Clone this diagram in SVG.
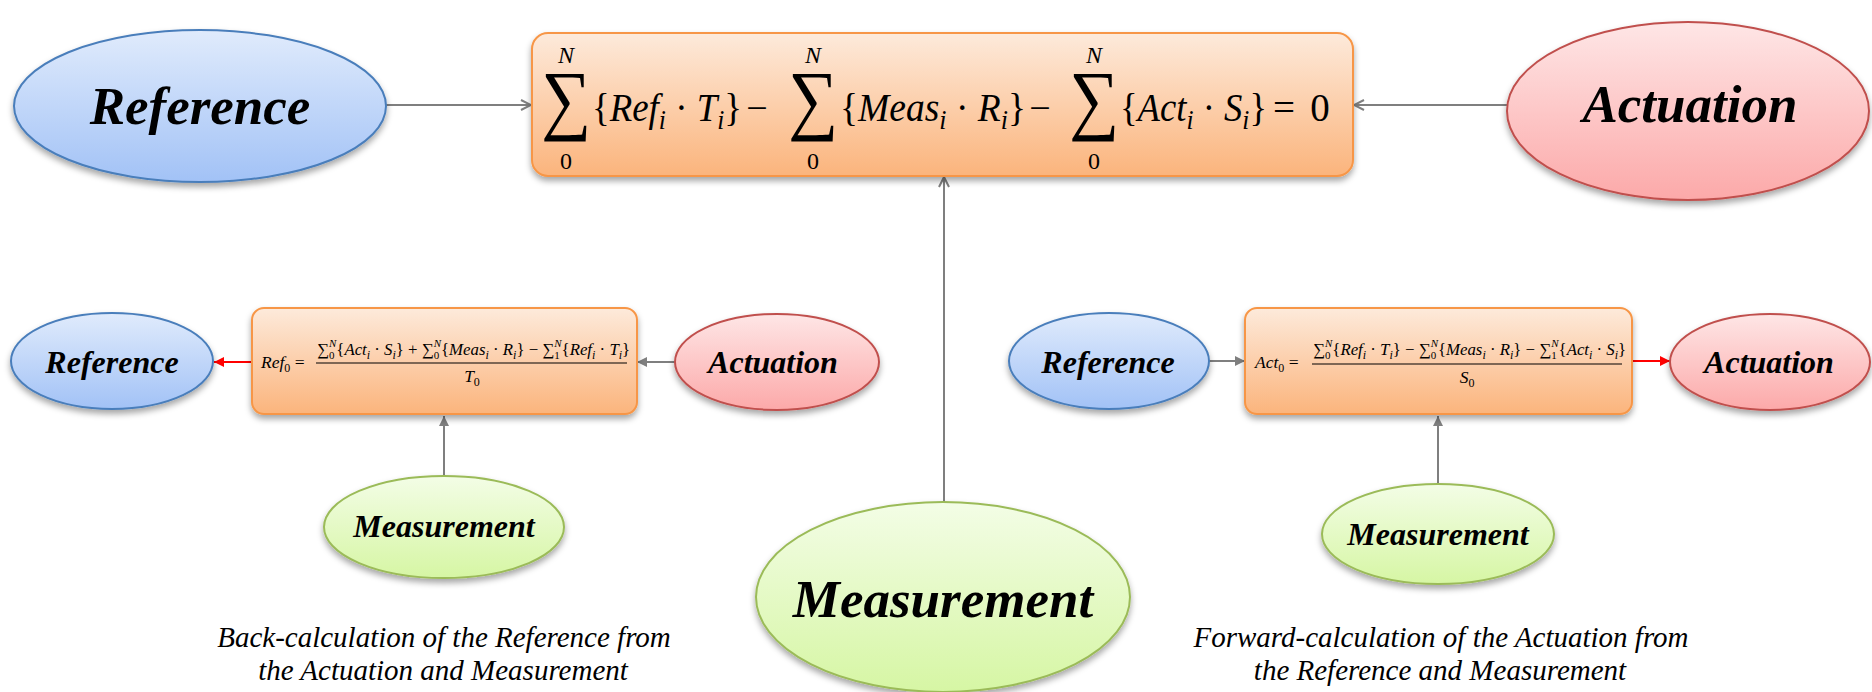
<svg xmlns="http://www.w3.org/2000/svg" width="1872" height="692" viewBox="0 0 1872 692">
<defs>
<linearGradient id="gBlue" x1="0" y1="0" x2="0" y2="1"><stop offset="0" stop-color="#e0ebfc"/><stop offset="1" stop-color="#a2c2f6"/></linearGradient>
<linearGradient id="gRed" x1="0" y1="0" x2="0" y2="1"><stop offset="0" stop-color="#fee6e6"/><stop offset="1" stop-color="#fca9a9"/></linearGradient>
<linearGradient id="gGreen" x1="0" y1="0" x2="0" y2="1"><stop offset="0" stop-color="#f3fde6"/><stop offset="1" stop-color="#d6f6a4"/></linearGradient>
<linearGradient id="gOrange" x1="0" y1="0" x2="0" y2="1"><stop offset="0" stop-color="#fdeadb"/><stop offset="1" stop-color="#fbb47c"/></linearGradient>
<filter id="sh" x="-10%" y="-10%" width="120%" height="130%"><feDropShadow dx="0" dy="4" stdDeviation="3" flood-color="#000" flood-opacity="0.35"/></filter>
<marker id="open" viewBox="0 0 12 12" refX="11" refY="6" markerWidth="12" markerHeight="12" markerUnits="userSpaceOnUse" orient="auto"><path d="M1,1 L11,6 L1,11" fill="none" stroke="#7f7f7f" stroke-width="2"/></marker>
<marker id="tri" viewBox="0 0 10 10" refX="10" refY="5" markerWidth="11" markerHeight="10" markerUnits="userSpaceOnUse" orient="auto"><path d="M0,0 L10,5 L0,10 Z" fill="#7f7f7f"/></marker>
<marker id="triR" viewBox="0 0 10 10" refX="10" refY="5" markerWidth="11" markerHeight="10" markerUnits="userSpaceOnUse" orient="auto"><path d="M0,0 L10,5 L0,10 Z" fill="#ff0000"/></marker>
</defs>
<style>
.ref{fill:url(#gBlue);stroke:#4a7ebb;stroke-width:2}
.act{fill:url(#gRed);stroke:#c0504d;stroke-width:2}
.mea{fill:url(#gGreen);stroke:#9bbb59;stroke-width:2}
.box{fill:url(#gOrange);stroke:#f79646;stroke-width:2}
.lbl{font-family:"Liberation Serif",serif;font-weight:bold;font-style:italic;fill:#000;text-anchor:middle}
.big{font-size:53px}
.sml{font-size:32px}
.cap{font-family:"Liberation Serif",serif;font-style:italic;font-size:29px;fill:#000;text-anchor:middle}
.m{font-family:"Liberation Serif",serif;font-style:italic;fill:#000}
.u{font-style:normal}
.con{stroke:#7f7f7f;stroke-width:2;fill:none}
.conR{stroke:#ff0000;stroke-width:2;fill:none}
</style>

<g id="connectors">
<line class="con" x1="386" y1="105" x2="531" y2="105" marker-end="url(#open)"/>
<line class="con" x1="1508" y1="105" x2="1354" y2="105" marker-end="url(#open)"/>
<line class="con" x1="944" y1="502" x2="944" y2="177" marker-end="url(#open)"/>
<line class="conR" x1="252" y1="362" x2="214" y2="362" marker-end="url(#triR)"/>
<line class="con" x1="676" y1="362" x2="637" y2="362" marker-end="url(#tri)"/>
<line class="con" x1="444" y1="476" x2="444" y2="416" marker-end="url(#tri)"/>
<line class="con" x1="1208" y1="361" x2="1245" y2="361" marker-end="url(#tri)"/>
<line class="conR" x1="1632" y1="361" x2="1670" y2="361" marker-end="url(#triR)"/>
<line class="con" x1="1438" y1="484" x2="1438" y2="416" marker-end="url(#tri)"/>
</g>

<g id="main-equation">
<rect class="box" x="532" y="33" width="821" height="143" rx="16" filter="url(#sh)"/>
<g class="m">
<text x="566" y="63" font-size="24" text-anchor="middle">N</text>
<text x="566" y="169" font-size="24" text-anchor="middle" class="u">0</text>
<text transform="translate(541,125) scale(0.9,1)" font-size="78" class="u">∑</text>
<text x="592" y="121" font-size="39" textLength="150" lengthAdjust="spacingAndGlyphs"><tspan class="u">{</tspan>Ref<tspan font-size="27" dy="8">i</tspan><tspan class="u" dy="-8"> · </tspan>T<tspan font-size="27" dy="8">i</tspan><tspan class="u" dy="-8">}</tspan></text>
<text x="757" y="121" font-size="38" text-anchor="middle" class="u">−</text>
<text x="813" y="63" font-size="24" text-anchor="middle">N</text>
<text x="813" y="169" font-size="24" text-anchor="middle" class="u">0</text>
<text transform="translate(788,125) scale(0.9,1)" font-size="78" class="u">∑</text>
<text x="840" y="121" font-size="39" textLength="186" lengthAdjust="spacingAndGlyphs"><tspan class="u">{</tspan>Meas<tspan font-size="27" dy="8">i</tspan><tspan class="u" dy="-8"> · </tspan>R<tspan font-size="27" dy="8">i</tspan><tspan class="u" dy="-8">}</tspan></text>
<text x="1040" y="121" font-size="38" text-anchor="middle" class="u">−</text>
<text x="1094" y="63" font-size="24" text-anchor="middle">N</text>
<text x="1094" y="169" font-size="24" text-anchor="middle" class="u">0</text>
<text transform="translate(1069,125) scale(0.9,1)" font-size="78" class="u">∑</text>
<text x="1120" y="121" font-size="39" textLength="147" lengthAdjust="spacingAndGlyphs"><tspan class="u">{</tspan>Act<tspan font-size="27" dy="8">i</tspan><tspan class="u" dy="-8"> · </tspan>S<tspan font-size="27" dy="8">i</tspan><tspan class="u" dy="-8">}</tspan></text>
<text x="1284" y="121" font-size="39" text-anchor="middle" class="u">=</text>
<text x="1320" y="121" font-size="39" text-anchor="middle" class="u">0</text>
</g>
</g>

<g id="reference-big">
<ellipse class="ref" cx="200" cy="106" rx="186" ry="76" filter="url(#sh)"/>
<text class="lbl big" x="200" y="124">Reference</text>
</g>
<g id="actuation-big">
<ellipse class="act" cx="1688" cy="111" rx="181" ry="89" filter="url(#sh)"/>
<text class="lbl big" x="1690" y="122">Actuation</text>
</g>
<g id="measurement-big">
<ellipse class="mea" cx="943" cy="597" rx="187" ry="95" filter="url(#sh)"/>
<text class="lbl big" x="943" y="617">Measurement</text>
</g>

<g id="back-calc-box">
<rect class="box" x="252" y="308" width="385" height="106" rx="12" filter="url(#sh)"/>
<g class="m" font-size="16.8">
<text x="261" y="368" font-size="17.5">Ref<tspan font-size="12" dy="4" class="u">0</tspan><tspan class="u" dy="-4"> =</tspan></text>
<text x="317" y="355"><tspan class="u">∑</tspan><tspan class="u" font-size="11" dy="4">0</tspan><tspan font-size="11" dx="-5.5" dy="-12">N</tspan><tspan class="u" dy="8">{</tspan>Act<tspan font-size="12" dy="4">i</tspan><tspan class="u" dy="-4"> · </tspan>S<tspan font-size="12" dy="4">i</tspan><tspan class="u" dy="-4">} + ∑</tspan><tspan class="u" font-size="11" dy="4">0</tspan><tspan font-size="11" dx="-5.5" dy="-12">N</tspan><tspan class="u" dy="8">{</tspan>Meas<tspan font-size="12" dy="4">i</tspan><tspan class="u" dy="-4"> · </tspan>R<tspan font-size="12" dy="4">i</tspan><tspan class="u" dy="-4">} − ∑</tspan><tspan class="u" font-size="11" dy="4">1</tspan><tspan font-size="11" dx="-5.5" dy="-12">N</tspan><tspan class="u" dy="8">{</tspan>Ref<tspan font-size="12" dy="4">i</tspan><tspan class="u" dy="-4"> · </tspan>T<tspan font-size="12" dy="4">i</tspan><tspan class="u" dy="-4">}</tspan></text>
<text x="472" y="382" text-anchor="middle" font-size="17.5">T<tspan font-size="12" dy="4" class="u">0</tspan></text>
</g>
<line x1="316" y1="363" x2="627" y2="363" stroke="#000" stroke-width="1.2"/>
</g>

<g id="forward-calc-box">
<rect class="box" x="1245" y="308" width="387" height="106" rx="12" filter="url(#sh)"/>
<g class="m" font-size="16.8">
<text x="1255" y="368" font-size="17.5">Act<tspan font-size="12" dy="4" class="u">0</tspan><tspan class="u" dy="-4"> =</tspan></text>
<text x="1313" y="355"><tspan class="u">∑</tspan><tspan class="u" font-size="11" dy="4">0</tspan><tspan font-size="11" dx="-5.5" dy="-12">N</tspan><tspan class="u" dy="8">{</tspan>Ref<tspan font-size="12" dy="4">i</tspan><tspan class="u" dy="-4"> · </tspan>T<tspan font-size="12" dy="4">i</tspan><tspan class="u" dy="-4">} − ∑</tspan><tspan class="u" font-size="11" dy="4">0</tspan><tspan font-size="11" dx="-5.5" dy="-12">N</tspan><tspan class="u" dy="8">{</tspan>Meas<tspan font-size="12" dy="4">i</tspan><tspan class="u" dy="-4"> · </tspan>R<tspan font-size="12" dy="4">i</tspan><tspan class="u" dy="-4">} − ∑</tspan><tspan class="u" font-size="11" dy="4">1</tspan><tspan font-size="11" dx="-5.5" dy="-12">N</tspan><tspan class="u" dy="8">{</tspan>Act<tspan font-size="12" dy="4">i</tspan><tspan class="u" dy="-4"> · </tspan>S<tspan font-size="12" dy="4">i</tspan><tspan class="u" dy="-4">}</tspan></text>
<text x="1467" y="383" text-anchor="middle" font-size="17.5">S<tspan font-size="12" dy="4" class="u">0</tspan></text>
</g>
<line x1="1312" y1="364" x2="1622" y2="364" stroke="#000" stroke-width="1.2"/>
</g>

<g id="reference-left">
<ellipse class="ref" cx="112" cy="361" rx="101" ry="48" filter="url(#sh)"/>
<text class="lbl sml" x="112" y="373">Reference</text>
</g>
<g id="actuation-left">
<ellipse class="act" cx="777" cy="362" rx="102" ry="48" filter="url(#sh)"/>
<text class="lbl sml" x="773" y="373">Actuation</text>
</g>
<g id="measurement-left">
<ellipse class="mea" cx="444" cy="527" rx="120" ry="51" filter="url(#sh)"/>
<text class="lbl sml" x="444" y="537">Measurement</text>
</g>
<g id="reference-right">
<ellipse class="ref" cx="1109" cy="361" rx="100" ry="48" filter="url(#sh)"/>
<text class="lbl sml" x="1108" y="373">Reference</text>
</g>
<g id="actuation-right">
<ellipse class="act" cx="1770" cy="362" rx="100" ry="48" filter="url(#sh)"/>
<text class="lbl sml" x="1769" y="373">Actuation</text>
</g>
<g id="measurement-right">
<ellipse class="mea" cx="1438" cy="534" rx="116" ry="50" filter="url(#sh)"/>
<text class="lbl sml" x="1438" y="545">Measurement</text>
</g>

<g id="captions">
<text class="cap" x="444" y="647">Back-calculation of the Reference from</text>
<text class="cap" x="443" y="680">the Actuation and Measurement</text>
<text class="cap" x="1441" y="647">Forward-calculation of the Actuation from</text>
<text class="cap" x="1440" y="680">the Reference and Measurement</text>
</g>
</svg>
